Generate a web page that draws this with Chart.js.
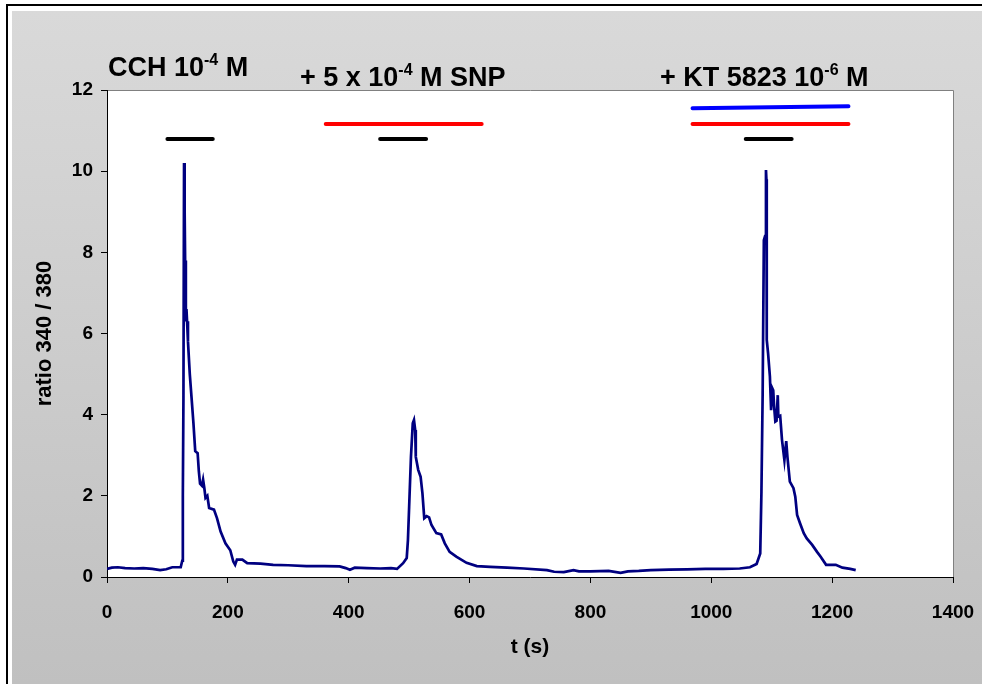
<!DOCTYPE html>
<html>
<head>
<meta charset="utf-8">
<script src="https://cdn.jsdelivr.net/npm/chart.js@4/dist/chart.umd.min.js"></script>
<style>
  html, body { margin: 0; padding: 0; background: #fff; }
</style>
</head>
<body>
<canvas id="chart" width="982" height="684"></canvas>
<script>
// time (s) and 340/380 ratio
const times = [0, 8, 18, 30, 45, 60, 75, 88, 98, 108, 122, 124.5, 125.5, 126.5, 127.5, 128.5, 129.3, 130.5, 131.5, 132.5,
    134, 137, 140, 143, 146, 150, 152, 154, 157, 159, 161, 163, 166, 169, 177, 182, 188, 196, 204, 209,
    212, 215, 224, 232, 254, 275, 300, 330, 360, 385, 395, 402, 410, 430, 452, 470, 480, 490, 496, 498,
    500, 503, 506, 508, 510, 511, 515, 519, 522, 525, 529, 533, 537, 545, 553, 559, 567, 578, 595, 612,
    634, 662, 690, 728, 740, 756, 772, 781, 800, 830, 850, 862, 880, 900, 930, 960, 990, 1020, 1047, 1064,
    1075, 1081, 1083, 1085, 1087, 1089, 1090.5, 1091.2, 1091.8, 1094, 1097, 1099, 1101, 1102.5, 1104, 1106, 1108, 1110, 1111, 1114,
    1117, 1121, 1124, 1126, 1130, 1136, 1139, 1142, 1147, 1153, 1158, 1167, 1175, 1181, 1190, 1206, 1217, 1230, 1239]
const ratio = [0.20, 0.23, 0.24, 0.22, 0.21, 0.22, 0.20, 0.17, 0.19, 0.24, 0.24, 0.40, 2.0, 4.4, 10.2, 9.0, 7.8, 6.3, 6.6, 6.3,
    5.8, 5.0, 4.4, 3.8, 3.1, 3.05, 2.6, 2.3, 2.25, 2.4, 2.2, 1.95, 2.0, 1.7, 1.66, 1.45, 1.12, 0.83, 0.66, 0.38,
    0.30, 0.43, 0.43, 0.34, 0.33, 0.30, 0.29, 0.27, 0.27, 0.26, 0.22, 0.18, 0.23, 0.22, 0.21, 0.22, 0.20, 0.34, 0.47, 0.91,
    1.73, 2.96, 3.79, 3.87, 3.62, 2.96, 2.64, 2.47, 2.06, 1.45, 1.5, 1.47, 1.28, 1.08, 1.05, 0.83, 0.62, 0.5, 0.35, 0.27,
    0.25, 0.23, 0.21, 0.17, 0.13, 0.12, 0.17, 0.14, 0.14, 0.15, 0.10, 0.14, 0.15, 0.17, 0.18, 0.19, 0.20, 0.20, 0.21, 0.24,
    0.32, 0.58, 2.1, 4.5, 8.3, 8.4, 10.03, 9.8, 5.84, 5.51, 4.94, 4.11, 4.65, 4.6, 4.2, 3.83, 3.85, 4.48, 3.95, 3.97,
    3.38, 2.88, 3.35, 2.96, 2.35, 2.19, 1.98, 1.53, 1.32, 1.08, 0.95, 0.79, 0.62, 0.5, 0.3, 0.3, 0.23, 0.20, 0.17]

// application bars: CCH (black), SNP (red), KT 5823 (blue)
const cchStart = [100, 452, 1057]
const cchEnd = [175, 528, 1133]
const cchLevel = 10.79
const snpStart = [362, 969]
const snpEnd = [620, 1227]
const snpLevel = 11.16
const ktRange = [969, 1227]
const ktLevel = [11.55, 11.6]

const xTicks = [0, 200, 400, 600, 800, 1000, 1200, 1400]
const yTicks = [0, 2, 4, 6, 8, 10, 12]

const headers = [
    { pre: 'CCH 10', sup: '-4', post: ' M', x: 108, y: 76 },
    { pre: '+ 5 x 10', sup: '-4', post: ' M SNP', x: 300, y: 86 },
    { pre: '+ KT 5823 10', sup: '-6', post: ' M', x: 660, y: 86 }
]

const FONT = 'Arial, "Liberation Sans", sans-serif'

const trace = times.map((t, i) => ({ x: t, y: ratio[i] }))

function bar(t0, t1, y0, y1, color) {
    return {
        data: [{ x: t0, y: y0 }, { x: t1, y: y1 }],
        showLine: true,
        borderColor: color,
        borderWidth: 4,
        borderCapStyle: 'round',
        pointRadius: 0
    }
}

const datasets = [{
    data: trace,
    showLine: true,
    borderColor: '#000080',
    borderWidth: 2.7,
    pointRadius: 0,
    tension: 0
}]
cchStart.forEach((t, i) => datasets.push(bar(t, cchEnd[i], cchLevel, cchLevel, '#000000')))
snpStart.forEach((t, i) => datasets.push(bar(t, snpEnd[i], snpLevel, snpLevel, '#ff0000')))
datasets.push(bar(ktRange[0], ktRange[1], ktLevel[0], ktLevel[1], '#0000ff'))

const backdrop = {
    id: 'backdrop',
    beforeDraw(chart) {
        const ctx = chart.ctx
        const { width, height, chartArea: a } = chart
        ctx.save()
        ctx.fillStyle = '#ffffff'
        ctx.fillRect(0, 0, width, height)
        ctx.strokeStyle = '#000000'
        ctx.lineWidth = 2
        ctx.strokeRect(7, 5, width + 20, height + 20)
        const g = ctx.createLinearGradient(0, 11, 0, height)
        g.addColorStop(0, '#d9d9d9')
        g.addColorStop(1, '#c0c0c0')
        ctx.fillStyle = g
        ctx.fillRect(12, 11, width - 12, height - 11)
        ctx.fillStyle = '#ffffff'
        ctx.fillRect(a.left, a.top, a.right - a.left, a.bottom - a.top)
        ctx.strokeStyle = '#808080'
        ctx.lineWidth = 1
        ctx.beginPath()
        ctx.moveTo(a.left, a.top + 0.5)
        ctx.lineTo(a.right + 0.5, a.top + 0.5)
        ctx.lineTo(a.right + 0.5, a.bottom)
        ctx.stroke()
        ctx.restore()
    },
    afterDraw(chart) {
        const ctx = chart.ctx
        ctx.save()
        ctx.fillStyle = '#000000'
        ctx.textBaseline = 'alphabetic'
        headers.forEach(h => {
            ctx.font = 'bold 27px ' + FONT
            let x = h.x
            ctx.fillText(h.pre, x, h.y)
            x += ctx.measureText(h.pre).width
            ctx.font = 'bold 16px ' + FONT
            ctx.fillText(h.sup, x, h.y - 11)
            x += ctx.measureText(h.sup).width
            ctx.font = 'bold 27px ' + FONT
            ctx.fillText(h.post, x, h.y)
        })
        ctx.restore()
    }
}

new Chart(document.getElementById('chart'), {
    type: 'scatter',
    data: { datasets: datasets },
    options: {
        responsive: false,
        animation: false,
        layout: { padding: { top: 90, right: 29, left: 0, bottom: 0 } },
        plugins: { legend: { display: false }, tooltip: { enabled: false } },
        scales: {
            x: {
                type: 'linear',
                min: 0,
                max: 1400,
                afterFit: s => { s.height = 107; s.paddingLeft = 0; s.paddingRight = 0 },
                afterBuildTicks: s => { s.ticks = xTicks.map(v => ({ value: v })) },
                border: { color: '#000000', width: 1 },
                grid: { drawOnChartArea: false, drawTicks: true, tickLength: 6, color: '#000000' },
                ticks: { color: '#000000', padding: 18, maxRotation: 0, callback: v => String(v), font: { family: FONT, size: 19, weight: 'bold' } },
                title: { display: true, text: 't (s)', color: '#000000', padding: { bottom: 24 }, font: { family: FONT, size: 21, weight: 'bold' } }
            },
            y: {
                min: 0,
                max: 12,
                afterFit: s => { s.width = 107; s.paddingTop = 0; s.paddingBottom = 0 },
                afterBuildTicks: s => { s.ticks = yTicks.map(v => ({ value: v })) },
                border: { color: '#000000', width: 1 },
                grid: { drawOnChartArea: false, drawTicks: true, tickLength: 6, color: '#000000' },
                ticks: { color: '#000000', padding: 8, callback: v => String(v), font: { family: FONT, size: 19, weight: 'bold' } },
                title: { display: true, text: 'ratio 340 / 380', color: '#000000', padding: { top: 32 }, font: { family: FONT, size: 22, weight: 'bold' } }
            }
        }
    },
    plugins: [backdrop]
})
</script>
</body>
</html>
